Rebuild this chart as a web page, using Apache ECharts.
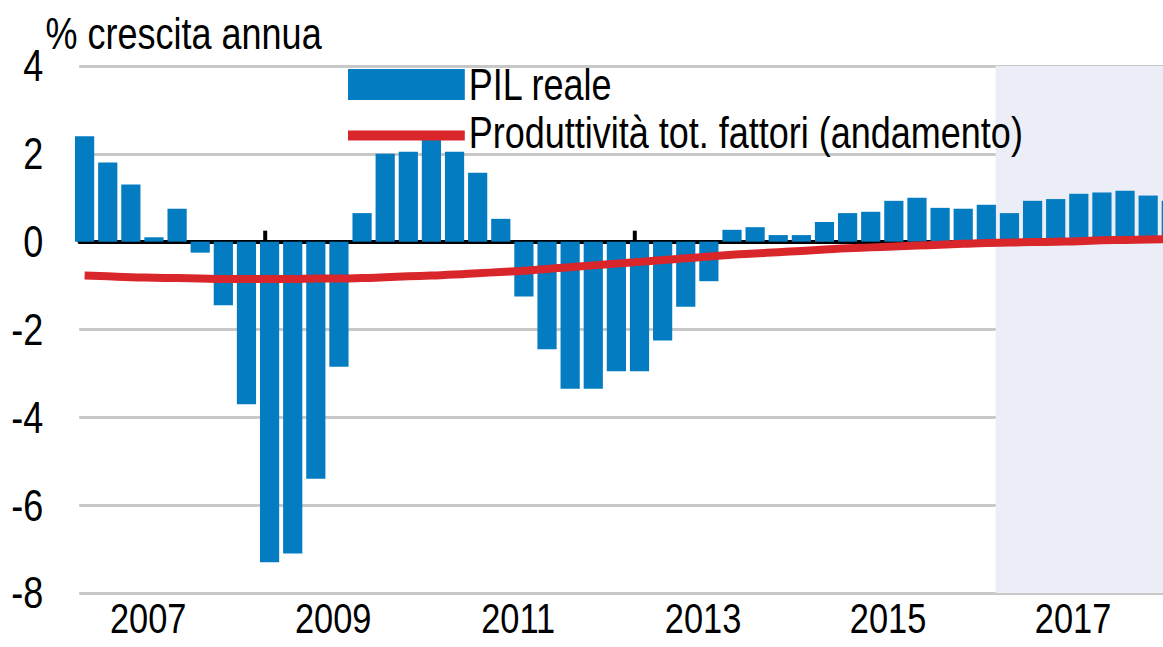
<!DOCTYPE html>
<html>
<head>
<meta charset="utf-8">
<script src="https://cdn.jsdelivr.net/npm/echarts@6/dist/echarts.min.js"></script>
<style>
  html, body { margin: 0; padding: 0; background: #fff; overflow: hidden; }
  /* the original figure uses a tall narrow type: draw wide, then squeeze horizontally */
  #chart { width: 1454px; height: 647px; transform: scaleX(0.8); transform-origin: 0 0; }
</style>
</head>
<body>
<div id="chart"></div>
<script>
const quarters = [
  '2007Q1','2007Q2','2007Q3','2007Q4','2008Q1','2008Q2','2008Q3','2008Q4',
  '2009Q1','2009Q2','2009Q3','2009Q4','2010Q1','2010Q2','2010Q3','2010Q4',
  '2011Q1','2011Q2','2011Q3','2011Q4','2012Q1','2012Q2','2012Q3','2012Q4',
  '2013Q1','2013Q2','2013Q3','2013Q4','2014Q1','2014Q2','2014Q3','2014Q4',
  '2015Q1','2015Q2','2015Q3','2015Q4','2016Q1','2016Q2','2016Q3','2016Q4',
  '2017Q1','2017Q2','2017Q3','2017Q4','2018Q1','2018Q2','2018Q3','2018Q4'
]
// PIL reale, % crescita annua
const pil = [
  2.4, 1.8, 1.3, 0.1, 0.75, -0.25, -1.45, -3.7,
  -7.3, -7.1, -5.4, -2.85, 0.65, 2.0, 2.05, 2.35,
  2.05, 1.57, 0.52, -1.25, -2.45, -3.35, -3.35, -2.95,
  -2.95, -2.25, -1.48, -0.9, 0.27, 0.33, 0.15, 0.15,
  0.45, 0.65, 0.68, 0.93, 1.0, 0.77, 0.75, 0.84,
  0.65, 0.93, 0.97, 1.09, 1.12, 1.16, 1.05, 0.93
]
// Produttività tot. fattori (andamento)
const ptf = [
  -0.77, -0.79, -0.81, -0.82, -0.83, -0.84, -0.85, -0.85,
  -0.85, -0.85, -0.84, -0.84, -0.83, -0.81, -0.79, -0.77,
  -0.75, -0.72, -0.69, -0.66, -0.62, -0.58, -0.54, -0.50,
  -0.46, -0.42, -0.38, -0.34, -0.30, -0.27, -0.24, -0.21,
  -0.18, -0.15, -0.13, -0.11, -0.09, -0.07, -0.05, -0.03,
  -0.02, -0.01, 0.0, 0.01, 0.03, 0.04, 0.05, 0.06
]
const yearLabels = ['2007', '2009', '2011', '2013', '2015', '2017']
const yearLabelPos = [2.75, 10.75, 18.75, 26.75, 34.75, 42.75]
const yearTickPos = [-0.2, 7.8, 15.8, 23.8, 31.8, 39.8]
const forecastStart = 39.4

const X_MIN = -0.234
const X_MAX = 46.65
const FONT = '"Liberation Sans", Arial, sans-serif'
const FS = 45

const chart = echarts.init(document.getElementById('chart'), null, { renderer: 'svg' })

chart.setOption({
  animation: false,
  textStyle: { fontFamily: FONT },
  title: {
    text: '% crescita annua',
    left: 57, top: 11, padding: 0,
    textStyle: { fontFamily: FONT, fontSize: FS, fontWeight: 'normal', color: '#000' },
  },
  legend: {
    orient: 'vertical',
    left: 435, top: 62, padding: 0,
    itemWidth: 146, itemHeight: 31, itemGap: 3,
    textStyle: { fontFamily: FONT, fontSize: FS, color: '#000', lineHeight: 44 },
    data: [
      { name: 'PIL reale', icon: 'rect' },
      {
        name: 'Produttività tot. fattori (andamento)',
        icon: 'path://M0,0L0,0M0,13.5L146,13.5L146,23.5L0,23.5ZM146,31L146,31',
        itemStyle: { color: '#d9262b' },
      },
    ],
  },
  grid: { left: 99, right: 0, top: 66, bottom: 54 },
  xAxis: [
    {
      type: 'value', min: X_MIN, max: X_MAX,
      axisLine: { show: false, onZero: false },
      axisTick: { show: false },
      splitLine: { show: false },
      axisLabel: {
        customValues: yearLabelPos,
        formatter: v => yearLabels[yearLabelPos.indexOf(v)] || '',
        fontFamily: FONT, fontSize: 43, color: '#000', margin: 7, lineHeight: 36,
      },
    },
    {
      type: 'value', min: X_MIN, max: X_MAX, position: 'bottom',
      axisLine: { show: true, onZero: true, lineStyle: { color: '#000', width: 4 } },
      axisTick: { show: true, inside: true, length: 11, customValues: yearTickPos, lineStyle: { color: '#000', width: 5 } },
      axisLabel: { show: false },
      splitLine: { show: false },
    },
  ],
  yAxis: {
    type: 'value', min: -8, max: 4, interval: 2,
    axisLine: { show: false },
    axisTick: { show: false },
    axisLabel: { fontFamily: FONT, fontSize: FS, color: '#000', margin: 45, padding: [0, 0, 12, 0] },
    splitLine: { lineStyle: { color: '#c8c8c8', width: 3 } },
  },
  series: [
    {
      // fascia previsioni
      type: 'line', data: [], z: -1, silent: true,
      markArea: {
        silent: true,
        itemStyle: { color: '#ebeef7' },
        data: [[{ xAxis: forecastStart }, { xAxis: X_MAX }]],
      },
    },
    {
      name: 'PIL reale',
      type: 'bar',
      data: pil.map((v, i) => [i, v]),
      barWidth: 24,
      clip: true,
      itemStyle: { color: '#037cc2' },
      z: 3,
    },
    {
      name: 'Produttività tot. fattori (andamento)',
      type: 'line',
      data: ptf.map((v, i) => [i, v]),
      symbol: 'none',
      smooth: true,
      clip: true,
      lineStyle: { color: '#d9262b', width: 8 },
      itemStyle: { color: '#d9262b' },
      z: 4,
    },
  ],
})
</script>
</body>
</html>
